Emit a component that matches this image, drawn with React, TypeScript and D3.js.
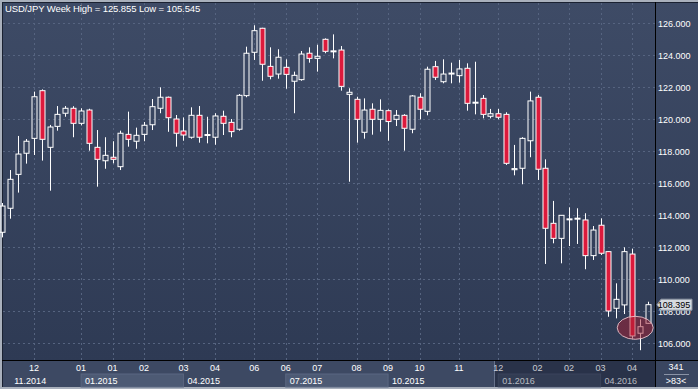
import * as d3 from "d3";
import React from "react";

// weekly candles, USD/JPY, Nov 2014 .. Apr 2016
const opens = [
  112.92, 114.42, 116.54, 117.86, 118.79, 121.77, 118.23, 119.54, 120.36, 120.67,
  119.73, 120.56, 118.23, 117.39, 117.61, 117.02, 119.04, 118.61, 119.04, 119.64,
  120.67, 121.36, 120.0, 119.25, 118.86, 120.23, 118.98, 118.86, 120.17, 119.79,
  119.36, 121.46, 124.17, 125.67, 123.29, 122.81, 123.23, 122.36, 122.46, 124.11,
  123.79, 124.98, 124.23, 124.31, 121.54, 121.23, 119.17, 120.61, 119.98, 120.52,
  119.98, 120.23, 119.36, 121.36, 120.48, 123.27, 122.33, 122.81, 122.71, 123.17,
  121.0, 121.29, 120.17, 120.33, 120.29, 116.83, 116.92, 118.64, 121.36, 116.92,
  113.48, 112.54, 113.71, 113.77, 113.69, 111.46, 113.36, 111.71, 108.17, 108.38,
  111.56, 106.61, 107.23,
];
const highs = [
  114.75, 116.81, 118.94, 118.75, 121.71, 121.85, 119.63, 120.81, 120.81, 120.8,
  120.67, 120.64, 119.31, 118.86, 118.61, 119.27, 120.46, 119.46, 119.81, 121.25,
  121.98, 121.4, 120.25, 120.1, 120.73, 120.81, 120.14, 120.36, 120.52, 120.0,
  121.56, 124.52, 125.86, 125.7, 124.48, 124.36, 123.73, 122.96, 124.25, 124.48,
  124.64, 125.04, 125.29, 124.56, 121.92, 121.39, 121.29, 120.98, 121.23, 120.6,
  120.56, 120.3, 121.5, 121.61, 123.27, 123.63, 123.73, 123.52, 123.69, 123.48,
  123.58, 121.5, 120.63, 120.63, 120.42, 118.38, 118.86, 121.71, 121.5, 117.48,
  114.88, 114.0, 114.48, 114.42, 114.11, 113.31, 113.79, 111.75, 109.73, 111.98,
  111.89, 107.48, 108.58,
];
const lows = [
  112.6, 113.77, 115.4, 117.21, 117.75, 117.4, 115.52, 119.27, 120.14, 118.86,
  119.6, 118.02, 115.77, 116.89, 117.23, 116.81, 118.27, 118.14, 118.61, 119.31,
  120.36, 119.2, 118.27, 118.64, 118.77, 118.52, 118.48, 118.39, 119.0, 118.86,
  119.27, 121.36, 123.69, 122.39, 122.48, 122.52, 121.89, 120.36, 122.39, 123.52,
  122.96, 124.11, 123.79, 121.77, 116.08, 118.52, 118.77, 119.02, 119.21, 118.64,
  119.56, 118.02, 119.11, 119.98, 120.23, 122.44, 122.23, 122.23, 122.27, 120.52,
  120.29, 120.04, 120.04, 119.98, 117.13, 116.48, 115.92, 117.61, 116.19, 110.94,
  112.23, 110.98, 112.06, 112.19, 110.61, 111.19, 111.5, 107.64, 107.54, 107.81,
  106.29, 105.55, 107.2,
];
const closes = [
  114.56, 116.23, 117.81, 118.61, 121.39, 118.73, 119.5, 120.29, 120.67, 119.73,
  120.5, 118.48, 117.48, 117.73, 117.48, 119.11, 118.73, 118.98, 119.61, 120.77,
  121.36, 120.08, 119.11, 119.0, 120.23, 118.86, 119.03, 120.19, 119.73, 119.21,
  121.48, 124.11, 125.52, 123.42, 122.67, 123.86, 122.79, 122.73, 124.06, 123.79,
  123.92, 124.23, 124.26, 122.04, 121.67, 119.98, 120.56, 119.98, 120.54, 119.84,
  120.23, 119.42, 121.44, 120.61, 123.11, 122.61, 122.81, 122.87, 123.13, 120.98,
  121.05, 120.29, 120.33, 120.11, 117.23, 116.9, 118.79, 121.13, 116.86, 113.17,
  112.54, 113.98, 113.76, 113.8, 111.46, 113.06, 111.61, 108.0, 108.73, 111.71,
  106.44, 107.02, 108.395,
];

const priceTicks = [106, 108, 110, 112, 114, 116, 118, 120, 122, 124, 126];
const monthTickIdx = [4, 10, 14, 18, 23, 27, 32, 36, 40, 45, 49, 53, 58, 63, 68, 72, 76, 80];
const monthTickLabels = ["12", "01", "01", "02", "03", "04", "06", "06", "07", "08", "09", "10", "11", "12", "02", "02", "03", "04"];
const periodStartIdx = [1, 10, 23, 36, 49, 63, 76];
const periodLabels = ["11.2014", "01.2015", "04.2015", "07.2015", "10.2015", "01.2016", "04.2016"];

const title = "USD/JPY Week  High = 125.855 Low = 105.545";
const lastPrice = "108.395";
const totalBars = "341";
const visibleBars = ">83<";

const W = 698;
const H = 389;
const plot = { left: 3, right: 655, top: 3, bottom: 360 };
const font = "'Liberation Sans', Arial, sans-serif";

const App = (): React.ReactElement => {
  const x = d3.scaleLinear().domain([0, opens.length - 1]).range([2.4, 647.8]);
  const y = d3.scaleLinear().domain([126 - 337 / 16, 126 + 20 / 16]).range([plot.bottom, plot.top]);

  const candles = opens.map((o, i) => ({ o, h: highs[i], l: lows[i], c: closes[i], i }));
  const bw = 5;

  const bandEnd = (k: number) =>
    k + 1 < periodStartIdx.length ? x(periodStartIdx[k + 1]) : plot.right;

  const tagY = y(+lastPrice);

  return (
    <svg width={W} height={H} style={{ position: "absolute", left: 0, top: 0 }} fontFamily={font}>
      <defs>
        <linearGradient id="bg" x1="0" y1="0" x2="0" y2="1">
          <stop offset="0%" stopColor="#3e4b66" />
          <stop offset="100%" stopColor="#2e3a54" />
        </linearGradient>
      </defs>
      <rect x={0} y={0} width={W} height={H} fill="#a9b0bc" />
      <rect x={2} y={2} width={W - 2} height={H - 4} fill="#1a2131" />
      <rect x={plot.left} y={plot.top} width={W - plot.left} height={plot.bottom - plot.top} fill="url(#bg)" />

      {/* grid */}
      <g stroke="#566480" strokeWidth={1} strokeDasharray="2,3">
        {priceTicks.map((t) => (
          <line key={"h" + t} x1={plot.left} x2={plot.right} y1={Math.round(y(t)) + 0.5} y2={Math.round(y(t)) + 0.5} />
        ))}
        {monthTickIdx.map((t, k) => (
          <line key={"v" + k} x1={Math.round(x(t)) + 0.5} x2={Math.round(x(t)) + 0.5} y1={plot.top} y2={plot.bottom} />
        ))}
      </g>

      {/* candles */}
      <g>
        {candles.map((d) => {
          const cx = Math.round(x(d.i)) + 0.5;
          const top = y(Math.max(d.o, d.c));
          const bot = y(Math.min(d.o, d.c));
          const up = d.c >= d.o;
          return (
            <g key={d.i}>
              <line x1={cx} x2={cx} y1={y(d.h)} y2={top} stroke="#fff" />
              <line x1={cx} x2={cx} y1={bot} y2={y(d.l)} stroke="#fff" />
              <rect
                x={cx - bw / 2}
                y={top}
                width={bw}
                height={Math.max(1, bot - top)}
                fill={up ? "none" : "#dc1a3c"}
                stroke="#fff"
                strokeWidth={1}
              />
            </g>
          );
        })}
      </g>

      {/* highlight of last weeks */}
      <ellipse cx={x(80.4)} cy={y(106.95)} rx={18} ry={11.5} fill="rgba(165,30,50,0.5)" stroke="rgba(240,205,212,0.85)" strokeWidth={1} />

      <text x={5} y={12} fill="#fff" fontSize={9.5} letterSpacing={-0.1}>{title}</text>

      {/* right price axis */}
      <line x1={plot.right + 0.5} x2={plot.right + 0.5} y1={2} y2={H - 2} stroke="#000" />
      <g fill="#fff" fontSize={9}>
        {priceTicks.map((t) => (
          <text key={"p" + t} x={658} y={y(t) + 3.5}>{t.toFixed(3)}</text>
        ))}
      </g>
      <path
        d={`M${plot.right + 2},${tagY} L${plot.right + 6},${tagY - 5.5} H${692} V${tagY + 5.5} H${plot.right + 6} Z`}
        fill="#d6dae0"
        stroke="#8c94a2"
      />
      <text x={674} y={tagY + 3.5} textAnchor="middle" fontSize={9} fill="#000">{lastPrice}</text>

      {/* bottom time axis */}
      <rect x={plot.left} y={plot.bottom} width={plot.right - plot.left} height={27} fill="#3d4963" />
      {periodLabels.map((lab, k) =>
        k % 2 === 1 ? (
          <rect key={"b" + k} x={x(periodStartIdx[k])} y={374} width={bandEnd(k) - x(periodStartIdx[k])} height={13} fill="#4d5a74" stroke="#5b6781" />
        ) : null
      )}
      <rect x={494} y={361} width={plot.right - 494} height={26} fill="rgba(14,20,38,0.42)" />
      <line x1={494.5} x2={494.5} y1={361} y2={387} stroke="#67728b" />
      <g fill="#fff" fontSize={9}>
        {monthTickIdx.map((t, k) => (
          <text key={"m" + k} x={x(t)} y={371} textAnchor="middle" fillOpacity={t >= 63 ? 0.75 : 1}>{monthTickLabels[k]}</text>
        ))}
        {periodLabels.map((lab, k) => (
          <text key={"pl" + k} x={x(periodStartIdx[k]) + 4} y={384} fillOpacity={k >= 5 ? 0.65 : 1}>{lab}</text>
        ))}
      </g>
      <line x1={2} x2={W} y1={plot.bottom + 0.5} y2={plot.bottom + 0.5} stroke="#000" />

      {/* bar counter */}
      <rect x={plot.right + 1} y={plot.bottom + 1} width={W - plot.right - 1} height={26} fill="#3a4660" />
      <g fill="#fff" fontSize={9} textAnchor="middle">
        <text x={676} y={370}>{totalBars}</text>
        <line x1={664} x2={689} y1={374.5} y2={374.5} stroke="#8a93a6" />
        <text x={676} y={384}>{visibleBars}</text>
      </g>
    </svg>
  );
};

export default App;
